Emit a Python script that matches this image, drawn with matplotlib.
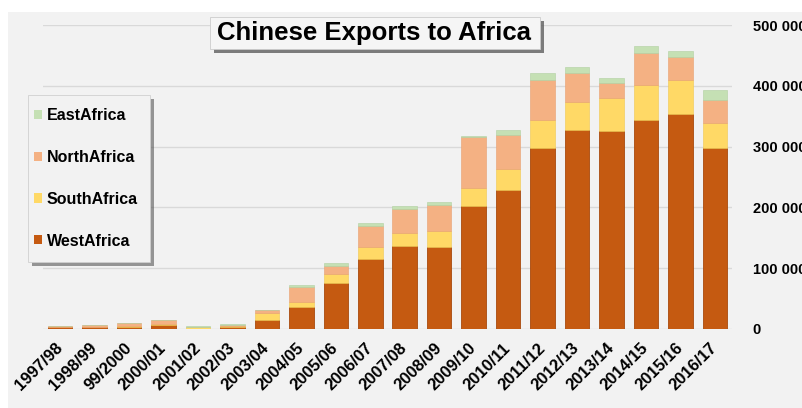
import numpy as np
import matplotlib.pyplot as plt
from matplotlib.patches import Rectangle, Patch

# Kategorien (Geschaeftsjahre)
years = ["1997/98", "1998/99", "99/2000", "2000/01", "2001/02", "2002/03",
         "2003/04", "2004/05", "2005/06", "2006/07", "2007/08", "2008/09",
         "2009/10", "2010/11", "2011/12", "2012/13", "2013/14", "2014/15",
         "2015/16", "2016/17"]

# Werte aus dem Bild geschaetzt
west = [3000, 3500, 4000, 6000, 500, 3000, 15000, 36500, 75000, 115000,
        137000, 135000, 202000, 228000, 297000, 327000, 325000, 344000,
        354000, 297000]
south = [0, 0, 1000, 3000, 2000, 2000, 11000, 7700, 14800, 20200,
         20700, 25700, 30000, 34400, 47000, 47000, 55000, 58000,
         55700, 42600]
north = [2000, 3000, 5000, 5000, 0, 1000, 5000, 25700, 13600, 34400,
         39300, 42600, 84000, 57400, 65000, 47500, 24000, 52000,
         37000, 36700]
east = [0, 500, 0, 1000, 3000, 2000, 1000, 3000, 4400, 5500,
        5500, 5500, 2000, 7700, 12000, 9800, 8200, 10800,
        9800, 16900]

col_west = "#C55A11"
col_south = "#FFD966"
col_north = "#F4B183"
col_east = "#C5E0B4"

plt.rcParams['font.family'] = ['Liberation Sans', 'DejaVu Sans']

W, H = 803, 408
fig = plt.figure(figsize=(W / 100, H / 100), dpi=100)
fig.patch.set_facecolor("white")

# grauer Hintergrund
fig.patches.append(Rectangle((8 / W, 0), 1, (H - 12) / H, transform=fig.transFigure,
                             facecolor="#F2F2F2", edgecolor="none", zorder=-5))

ax = fig.add_axes([43 / W, (H - 329) / H, (732 - 43) / W, (329 - 25) / H])
ax.set_facecolor("none")

x = np.arange(len(years))
w = 0.71
west = np.array(west)
south = np.array(south)
north = np.array(north)
east = np.array(east)

ax.bar(x, west, w, color=col_west, edgecolor="#A84A0C", linewidth=0.6, zorder=3)
ax.bar(x, south, w, bottom=west, color=col_south, edgecolor="#F0C850", linewidth=0.4, zorder=3)
ax.bar(x, north, w, bottom=west + south, color=col_north, edgecolor="#E8A070", linewidth=0.4, zorder=3)
ax.bar(x, east, w, bottom=west + south + north, color=col_east, edgecolor="#B0D0A0", linewidth=0.4, zorder=3)

ax.set_xlim(-0.5, len(years) - 0.5)
ax.set_ylim(0, 500000)
ax.set_yticks(np.arange(0, 500001, 100000))
ax.yaxis.tick_right()
ax.set_yticklabels(["0", "100 000", "200 000", "300 000", "400 000", "500 000"],
                   fontsize=10.5, fontweight="bold", ha="left")
ax.tick_params(axis="y", length=0, pad=15)
ax.grid(axis="y", color="#D9D9D9", linewidth=1, zorder=0)
ax.set_axisbelow(True)

ax.set_xticks(x)
ax.set_xticklabels(years, rotation=45, ha="right", va="center", rotation_mode="anchor",
                   fontsize=12, fontweight="bold")
ax.tick_params(axis="x", length=0, pad=12)

for s in ax.spines.values():
    s.set_visible(False)

# Titel mit Schattenbox
bx, by, bw, bh = 210, 17, 330, 32
fig.patches.append(Rectangle(((bx + 4) / W, (H - by - bh - 4) / H), bw / W, bh / H,
                             transform=fig.transFigure, facecolor="#555555",
                             edgecolor="none", alpha=0.75, zorder=5))
fig.patches.append(Rectangle((bx / W, (H - by - bh) / H), bw / W, bh / H,
                             transform=fig.transFigure, facecolor="#F5F5F5",
                             edgecolor="#CCCCCC", linewidth=0.6, zorder=6))
fig.text(374 / W, (H - 33) / H, "Chinese Exports to Africa", ha="center", va="center",
         fontsize=18.5, fontweight="bold", zorder=7)

# Legendenbox mit Schatten
lx, ly, lw, lh = 28, 95, 122, 167
fig.patches.append(Rectangle(((lx + 4) / W, (H - ly - lh - 4) / H), lw / W, lh / H,
                             transform=fig.transFigure, facecolor="#555555",
                             edgecolor="none", alpha=0.6, zorder=5))
fig.patches.append(Rectangle((lx / W, (H - ly - lh) / H), lw / W, lh / H,
                             transform=fig.transFigure, facecolor="#F2F2F2",
                             edgecolor="#D0D0D0", linewidth=0.6, zorder=6))

handles = [Patch(facecolor=col_east), Patch(facecolor=col_north),
           Patch(facecolor=col_south), Patch(facecolor=col_west)]
labels = ["EastAfrica", "NorthAfrica", "SouthAfrica", "WestAfrica"]
leg = fig.legend(handles, labels, loc="upper left", bbox_to_anchor=(34 / W, (H - 108) / H),
                 bbox_transform=fig.transFigure, frameon=False,
                 prop={"size": 11.5, "weight": "bold"},
                 handlelength=0.5, handleheight=0.5, handletextpad=0.3,
                 labelspacing=1.68, borderpad=0, borderaxespad=0)
leg.set_zorder(8)

fig.savefig("out.png", dpi=100)
